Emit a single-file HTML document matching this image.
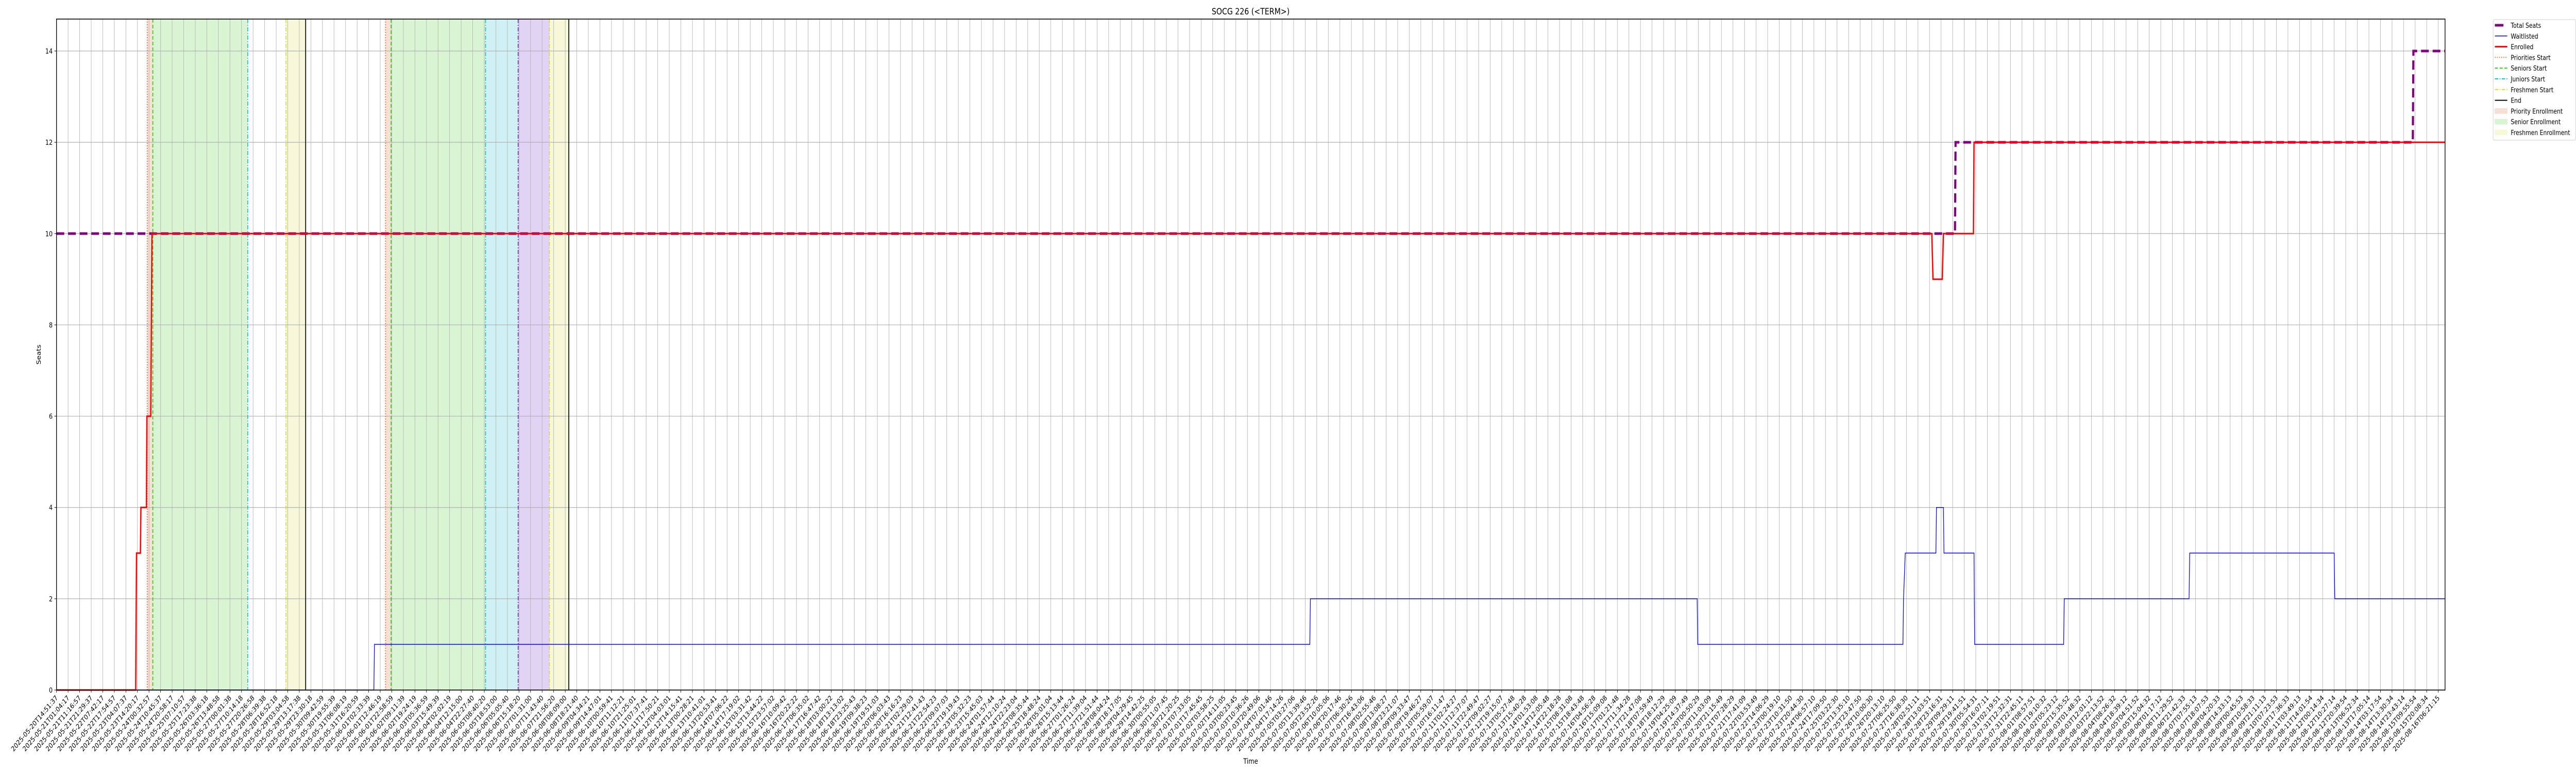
<!DOCTYPE html>
<html><head><meta charset="utf-8"><title>SOCG 226 (&lt;TERM&gt;)</title>
<style>
html,body{margin:0;padding:0;background:#fff;overflow:hidden;width:100vw;height:100vh;}
svg{display:block;overflow:hidden;width:100vw;height:100vh;font-family:"DejaVu Sans","Liberation Sans",sans-serif;}
</style></head>
<body>
<svg id="chart" viewBox="0 0 6000 1500" preserveAspectRatio="none" xmlns="http://www.w3.org/2000/svg">
<rect x="0" y="0" width="6000" height="1500" fill="#fff"/>
<g id="fills"></g>
<g id="grid"></g>
<g id="vlines"></g>
<g id="series"></g>
<rect x="131.6" y="37" width="5563.4" height="1302" fill="none" stroke="#000" stroke-width="1.6"/>
<g id="axes"></g>
<text x="2913" y="28" font-size="17" text-anchor="middle">SOCG 226 (&lt;TERM&gt;)</text>
<text x="2913" y="1482" font-size="14" text-anchor="middle">Time</text>
<text x="0" y="0" font-size="14" text-anchor="middle" transform="translate(95,688) rotate(-90)">Seats</text>
<g id="legend"></g>
</svg>
<script>
// ---- data ----
const tickCount = 207;
const tickStart = "2025-05-20T14:51:37";
const tickEnd = "2025-08-16T06:21:15";
const yTicks = [0, 2, 4, 6, 8, 10, 12, 14];
const totalSeatsX = [0, 164.2, 164.25, 203.8, 203.85, 206.6];
const totalSeatsY = [10, 10, 12, 12, 14, 14];
const enrolledX = [0, 6.85, 6.92, 7.26, 7.3, 7.78, 7.82, 8.15, 8.26, 162.2, 162.3, 163.1, 163.2, 165.8, 165.85, 206.6];
const enrolledY = [0, 0, 3, 3, 4, 4, 6, 6, 10, 10, 9, 9, 10, 10, 12, 12];
const waitX = [0, 27.45, 27.5, 108.4, 108.45, 141.9, 141.95, 159.7, 159.75, 159.9, 162.55, 162.6, 163.2, 163.25, 165.85, 165.9, 173.6, 173.65, 184.45, 184.5, 197.0, 197.05, 206.6];
const waitY = [0, 0, 1, 1, 2, 2, 1, 1, 2, 3, 3, 4, 4, 3, 3, 1, 1, 2, 2, 3, 3, 2, 2];
const fillStarts = [7.85, 8.33, 19.85, 28.46, 28.94, 37.11, 39.93, 42.64];
const fillEnds = [8.33, 16.54, 21.55, 28.94, 37.11, 39.93, 42.64, 44.31];
const fillKinds = ["priority", "senior", "freshmen", "priority", "senior", "junior", "sophomore", "freshmen"];
const lineXs = [7.85, 8.33, 16.54, 19.85, 21.55, 28.46, 28.94, 37.11, 39.93, 42.64, 44.31];
const lineKinds = ["priorities-start", "seniors-start", "juniors-start", "freshmen-start", "end", "priorities-start", "seniors-start", "juniors-start", "sophomores-start", "freshmen-start", "end"];

// ---- scales ----
const X0 = 131.6, DX = 26.93, Y0 = 1339, YTOP = 37, YMAX = 14.7;
function sx(v){ return X0 + v * DX; }
function sy(v){ return Y0 - v * (Y0 - YTOP) / YMAX; }
const NS = "http://www.w3.org/2000/svg";
function mk(tag, attrs, parent){
  const e = document.createElementNS(NS, tag);
  for (const k in attrs) e.setAttribute(k, attrs[k]);
  parent.appendChild(e); return e;
}
const fillColors = {priority:"#f6e0d6", senior:"#d9f4d2", junior:"#d0f1f4", sophomore:"#e1d3f4", freshmen:"#f7f8d9"};
const lineStyles = {
  "priorities-start": {c:"#f26a2c", d:"2,3", w:2},
  "seniors-start": {c:"#33cc11", d:"7,4", w:2},
  "juniors-start": {c:"#12c4d2", d:"8,3,2,3", w:2},
  "sophomores-start": {c:"#7d2ee6", d:"8,3,2,3", w:2},
  "freshmen-start": {c:"#dcdc30", d:"8,3,2,3", w:2},
  "end": {c:"#000000", d:"", w:2}
};

// fills
const gF = document.getElementById("fills");
for (let i = 0; i < fillStarts.length; i++) {
  const r = mk("rect", {x: sx(fillStarts[i]), y: YTOP, width: sx(fillEnds[i]) - sx(fillStarts[i]), height: Y0 - YTOP, fill: fillColors[fillKinds[i]]}, gF);
  
  
}

// grid + ticks
const gG = document.getElementById("grid");
const gA = document.getElementById("axes");
const t0 = Date.parse(tickStart + "Z"), t1 = Date.parse(tickEnd + "Z");
const tickLabels = [];
for (let i = 0; i < tickCount; i++) {
  const t = new Date(t0 + (t1 - t0) * i / (tickCount - 1));
  tickLabels.push(t.toISOString().slice(0, 19));
}
for (let i = 0; i < tickCount; i++) {
  const x = sx(i);
  const gl = mk("line", {x1: x, x2: x, y1: YTOP, y2: Y0, stroke: "#b0b0b0", "stroke-width": 1}, gG);
  
  
  mk("line", {x1: x, x2: x, y1: Y0, y2: Y0 + 5, stroke: "#000", "stroke-width": 1}, gA);
  const tx = mk("text", {x: 0, y: 0, "font-size": 13.5, "text-anchor": "end", transform: "translate(" + (x + 4) + "," + (Y0 + 16) + ") rotate(-45)"}, gA);
  
  
  tx.textContent = tickLabels[i];
}
yTicks.forEach(v => {
  const y = sy(v);
  const gl = mk("line", {x1: X0, x2: X0 + 206.6 * DX, y1: y, y2: y, stroke: "#b0b0b0", "stroke-width": 1.2}, gG);
  
  
  mk("line", {x1: X0 - 5, x2: X0, y1: y, y2: y, stroke: "#000", "stroke-width": 1}, gA);
  const tx = mk("text", {x: X0 - 9, y: y + 5, "font-size": 13.5, "text-anchor": "end"}, gA);
  
  
  tx.textContent = String(v);
});

// vertical event lines
const gV = document.getElementById("vlines");
for (let i = 0; i < lineXs.length; i++) {
  const s = lineStyles[lineKinds[i]];
  const l = mk("line", {x1: sx(lineXs[i]), x2: sx(lineXs[i]), y1: YTOP, y2: Y0, stroke: s.c, "stroke-width": s.w, "stroke-dasharray": s.d}, gV);
  
  
}

// series
const gS = document.getElementById("series");
function pts(xs, ys){ return xs.map((x, i) => sx(x).toFixed(1) + "," + sy(ys[i]).toFixed(1)).join(" "); }
const ts = mk("polyline", {points: pts(totalSeatsX, totalSeatsY), fill: "none", stroke: "#800080", "stroke-width": 5, "stroke-dasharray": "18,9"}, gS);


const wl = mk("polyline", {points: pts(waitX, waitY), fill: "none", stroke: "#0000ff", "stroke-width": 1.5}, gS);


const en = mk("polyline", {points: pts(enrolledX, enrolledY), fill: "none", stroke: "#ff0000", "stroke-width": 3}, gS);



// legend
const gL = document.getElementById("legend");
mk("rect", {x: 5807, y: 38, width: 192, height: 234, rx: 3, fill: "#fff", stroke: "#cccccc", "stroke-width": 1}, gL);
const legendItems = [
  {n:"Total Seats", t:"patch", c:"#800080"},
  {n:"Waitlisted", t:"line", c:"#0000ff", w:1.5, d:""},
  {n:"Enrolled", t:"line", c:"#ff0000", w:3, d:""},
  {n:"Priorities Start", t:"line", c:"#f26a2c", w:2, d:"2,3"},
  {n:"Seniors Start", t:"line", c:"#33cc11", w:2, d:"7,4"},
  {n:"Juniors Start", t:"line", c:"#12c4d2", w:2, d:"8,3,2,3"},
  {n:"Freshmen Start", t:"line", c:"#dcdc30", w:2, d:"8,3,2,3"},
  {n:"End", t:"line", c:"#000", w:2, d:""},
  {n:"Priority Enrollment", t:"box", c:"#f6e0d6"},
  {n:"Senior Enrollment", t:"box", c:"#d9f4d2"},
  {n:"Freshmen Enrollment", t:"box", c:"#f7f8d9"}
];
legendItems.forEach((it, i) => {
  const y = 49 + i * 20.8;
  const g = mk("g", {}, gL);
  
  
  if (it.t === "patch") mk("rect", {x: 5811, y: y - 2.5, width: 20, height: 5, fill: it.c}, g);
  else if (it.t === "box") mk("rect", {x: 5811, y: y - 5, width: 29, height: 10, fill: it.c, stroke: it.c}, g);
  else mk("line", {x1: 5811, x2: 5840, y1: y, y2: y, stroke: it.c, "stroke-width": it.w, "stroke-dasharray": it.d}, g);
  const tx = mk("text", {x: 5848, y: y + 5, "font-size": 13}, g);
  tx.textContent = it.n;
  if (tx.getComputedTextLength && tx.getComputedTextLength() > 148) tx.setAttribute("textLength", "148");
});
</script>
</body></html>
